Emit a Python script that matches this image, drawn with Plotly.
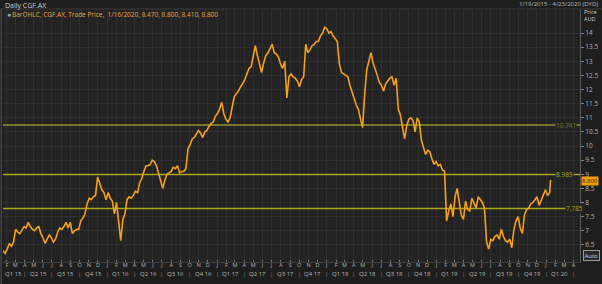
import pandas as pd
import plotly.graph_objects as go

# ---- data (weekly closes) ----
start_date = "2015-01-19"
weekly_close = [
    6.3, 6.2, 6.35, 6.55, 6.45, 6.6, 7.05, 6.95, 6.9, 7.05,
    7.15, 7.1, 7.3, 7.15, 7.05, 7.0, 7.1, 7.15, 6.9, 6.75,
    6.55, 6.7, 6.85, 6.75, 6.6, 6.7, 6.95, 7.1, 7.05, 7.15,
    7.3, 7.1, 7.3, 6.9, 7.0, 7.05, 7.05, 7.35, 7.45, 7.6,
    7.95, 8.15, 8.1, 8.2, 8.25, 8.9, 8.65, 8.45, 8.35, 8.1,
    8.35, 8.15, 8.05, 7.6, 8.0, 7.3, 6.65, 7.4, 7.6, 8.1,
    8.2, 8.15, 8.25, 8.4, 8.35, 8.7, 8.85, 9.1, 9.3, 9.3,
    9.35, 9.5, 9.45, 9.3, 9.0, 8.7, 8.5, 8.8, 9.0, 9.05,
    9.1, 9.25, 9.2, 9.3, 9.05, 9.1, 9.1, 9.2, 9.9, 10.05,
    10.25, 10.3, 10.45, 10.55, 10.45, 10.3, 10.5, 10.55, 10.7, 10.8,
    10.85, 11.05, 11.15, 11.3, 11.55, 11.15, 10.95, 10.85, 11.0, 11.35,
    11.75, 11.85, 11.95, 12.1, 12.2, 12.35, 12.55, 12.75, 12.8, 13.25,
    13.55, 13.2, 12.9, 12.6, 12.95, 13.2, 13.3, 13.45, 13.6, 13.3,
    13.25, 13.15, 12.9, 12.75, 13.0, 11.7, 12.45, 12.55, 12.45, 12.4,
    12.3, 12.1, 12.35, 12.45, 13.6, 13.3, 13.4, 13.55, 13.6, 13.7,
    13.7, 13.9, 14.0, 14.2, 14.15, 14.0, 14.05, 13.9, 13.8, 13.7,
    12.9, 12.6, 12.55, 12.5, 12.45, 12.15, 11.9, 11.65, 11.45, 11.3,
    11.0, 10.65, 11.8, 12.7, 13.0, 13.3, 12.95, 12.75, 12.5, 12.25,
    12.15, 11.95, 12.2, 12.3, 12.4, 12.45, 12.15, 12.4, 11.3, 11.1,
    10.7, 10.25, 10.7, 10.95, 11.0, 10.9, 10.5, 11.0, 10.85, 10.2,
    9.95, 9.7, 9.85, 9.8, 9.55, 9.35, 9.45, 9.3, 9.35, 9.15,
    9.1, 7.35, 7.7, 7.95, 7.5, 8.2, 8.5, 7.95, 7.55, 7.4,
    8.05, 7.75, 7.7, 8.15, 7.95, 7.8, 8.2, 8.1, 8.0, 7.8,
    6.6, 6.35, 6.7, 6.65, 6.8, 6.85, 6.7, 7.05, 6.8, 6.65,
    6.6, 6.7, 6.4, 7.05, 7.35, 7.5, 7.1, 6.9, 7.55, 7.75,
    7.8, 7.95, 8.0, 8.1, 8.2, 7.9, 8.1, 8.3, 8.45, 8.25, 8.35,
]
last_date = "2020-01-16"
last_close = 8.80

ref_levels = [10.741, 8.989, 7.785]
ref_labels = ["10.741", "8.989", "7.785"]
ref_colors = ["#77772a", "#a9a91e", "#a9a91e"]
ref_widths = [2, 1.5, 1.5]
ref_label_x = ["2020-03-07", "2020-03-04", "2020-04-06"]

range_start = "2015-01-19"
range_end = "2020-04-23"
month_letters = ["J", "F", "M", "A", "M", "J", "J", "A", "S", "O", "N", "D"]
y_ticks = [6.5, 7, 7.5, 8, 8.5, 9, 9.5, 10, 10.5, 11, 11.5, 12, 12.5, 13, 13.5, 14]

# ---- build ----
dates = list(pd.date_range(start_date, periods=len(weekly_close), freq="7D")) + [pd.Timestamp(last_date)]
closes = weekly_close + [last_close]

PAPER = "#1e1e1e"
PLOT = "#232323"
GRID = "#2f2f2f"
AXTXT = "#b4b4b4"
ORANGE = "#f5a01a"
FONT = "Open Sans"

fig = go.Figure()
for lvl, col, w in zip(ref_levels, ref_colors, ref_widths):
    fig.add_trace(go.Scatter(x=[range_start, range_end], y=[lvl, lvl], mode="lines",
                             line=dict(color=col, width=w), hoverinfo="skip"))
fig.add_trace(go.Scatter(x=dates, y=closes, mode="lines",
                         line=dict(color=ORANGE, width=1.6), hoverinfo="skip"))

for lvl, lab, col, lx in zip(ref_levels, ref_labels, ref_colors, ref_label_x):
    fig.add_annotation(x=lx, y=lvl, xref="x", yref="y", text=lab, showarrow=False,
                       font=dict(size=6.5, color=col, family=FONT), bgcolor=PLOT,
                       borderpad=0, xanchor="center", yanchor="middle")

month_ticks = pd.date_range("2015-02-01", "2020-04-01", freq="MS")
month_text = [month_letters[d.month - 1] for d in month_ticks]

# quarter labels and separators
rs, re_ = pd.Timestamp(range_start), pd.Timestamp(range_end)
for q in pd.period_range("2015Q1", "2020Q1", freq="Q"):
    qs = q.start_time
    qe = (q + 1).start_time
    a = max(qs, rs)
    b = min(qe, re_)
    mid = a + (b - a) / 2
    fig.add_annotation(x=mid, y=0, xref="x", yref="paper", yshift=-12, yanchor="middle",
                       text=f"Q{q.quarter} {str(q.year)[2:]}", showarrow=False,
                       font=dict(size=6, color=AXTXT, family=FONT))
    fig.add_annotation(x=qe, y=0, xref="x", yref="paper", yshift=-12, yanchor="middle",
                       text="|", showarrow=False, font=dict(size=6, color="#8a8a8a", family=FONT))

fig.update_layout(
    width=602, height=284,
    margin=dict(l=3, r=22, t=10, b=22),
    paper_bgcolor=PAPER, plot_bgcolor=PLOT,
    showlegend=False,
    font=dict(family=FONT, size=7, color=AXTXT),
    xaxis=dict(type="date", range=[range_start, range_end],
               tickvals=month_ticks, ticktext=month_text,
               showgrid=True, gridcolor=GRID, gridwidth=1,
               ticks="inside", ticklen=2, tickcolor="#777", ticklabelstandoff=-3,
               tickfont=dict(size=5.5, color=AXTXT),
               showline=True, linecolor="#3c3c3c", zeroline=False, fixedrange=True),
    yaxis=dict(side="right", range=[5.894, 14.814], tickvals=y_ticks,
               showgrid=True, gridcolor=GRID, gridwidth=1,
               ticks="outside", ticklen=3, tickcolor="#888", tickfont=dict(size=6.5, color=AXTXT),
               showline=True, linecolor="#5a5a5a", zeroline=False, fixedrange=True),
)

# header texts
fig.add_annotation(x=0, y=1, xref="paper", yref="paper", xanchor="left", yanchor="middle",
                   yshift=5, text="Daily CGF.AX", showarrow=False,
                   font=dict(size=7, color="#cfcfcf", family=FONT))
fig.add_annotation(x=1, y=1, xref="paper", yref="paper", xanchor="right", yanchor="middle",
                   xshift=19, yshift=6, text="1/19/2015 - 4/23/2020 (DYD)", showarrow=False,
                   borderpad=0, font=dict(size=6, color="#bdbdbd", family=FONT))
fig.add_annotation(x=0, y=1, xref="paper", yref="paper", xanchor="left", yanchor="middle",
                   xshift=7, yshift=-4,
                   text="BarOHLC, CGF.AX, Trade Price,  1/16/2020, 8.470, 8.800, 8.410, 8.800",
                   showarrow=False, font=dict(size=6.5, color="#e8a33d", family=FONT))
fig.add_annotation(x=0, y=1, xref="paper", yref="paper", xanchor="left", yanchor="middle",
                   xshift=2, yshift=-4, text="●", showarrow=False,
                   font=dict(size=7, color="#8fa6c0", family=FONT))
fig.add_annotation(x=1, y=1, xref="paper", yref="paper", xanchor="left", yanchor="middle",
                   xshift=3, yshift=-2, text="Price", showarrow=False, borderpad=0,
                   font=dict(size=5.5, color="#cfcfcf", family=FONT))
fig.add_annotation(x=1, y=1, xref="paper", yref="paper", xanchor="left", yanchor="middle",
                   xshift=3, yshift=-9, text="AUD", showarrow=False, borderpad=0,
                   font=dict(size=5.5, color="#cfcfcf", family=FONT))
# last price marker on axis
fig.add_annotation(x=1, y=last_close, xref="paper", yref="y", xanchor="left", yanchor="middle",
                   xshift=1, yshift=-1, text=f"{last_close:.3f}", showarrow=False, bgcolor="#f0a000",
                   borderpad=0, font=dict(size=6, color="#1a1a1a", family=FONT))
# Auto button
fig.add_annotation(x=1, y=0, xref="paper", yref="paper", xanchor="left", yanchor="bottom",
                   xshift=3, yshift=1, text="Auto", showarrow=False, bordercolor="#9a9a9a",
                   borderwidth=1, borderpad=0.5, bgcolor="#2a2a2a",
                   font=dict(size=6, color="#d0d0d0", family=FONT))
# header separator and left border
fig.add_shape(type="line", xref="paper", yref="paper", x0=-0.01, x1=1.04, y0=1.004, y1=1.004,
              line=dict(color="#3e3e3e", width=1))
fig.add_shape(type="line", xref="paper", yref="paper", x0=-0.003, x1=-0.003, y0=-0.09, y1=1.0,
              line=dict(color="#444444", width=1.5))

fig.write_html("out.html")
